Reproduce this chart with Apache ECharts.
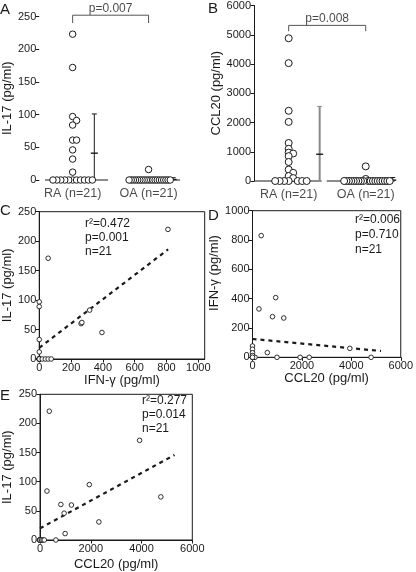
<!DOCTYPE html>
<html><head><meta charset="utf-8">
<script src="https://cdn.jsdelivr.net/npm/echarts@6/dist/echarts.min.js"></script>
<style>html,body{margin:0;padding:0;background:#fff}#c{width:416px;height:572px}</style>
</head><body><div id="c"></div>
<script>
// ---------------- DATA ----------------
const groupNames = ['RA (n=21)', 'OA (n=21)'];
// Panel A: IL-17 (pg/ml)
const il17RA = [223,172,97,91,84,61,61,46,32,12,0,0,0,0,0,0,0,0,0,0,0];
const il17OA = [16,0,0,0,0,0,0,0,0,0,0,0,0,0,0,0,0,0,0,0,0];
const il17Mean = [41, 0.8];
const il17Upper = [101, 3.5];
const il17PText = 'p=0.007';
// Panel B: CCL20 (pg/ml)
const ccl20RA = [4880,4030,2400,2020,1300,1100,970,940,850,650,390,280,170,100,0,0,0,0,0,0,0];
const ccl20OA = [500,70,0,0,0,0,0,0,0,0,0,0,0,0,0,0,0,0,0,0,0];
const ccl20Mean = [915, 30];
const ccl20Upper = [2550, 120];
const ccl20PText = 'p=0.008';
// Panel C: IFN-γ (x) vs IL-17 (y)
const ifnIl17 = [[809,220],[56,171],[0,97],[0,89],[317,83],[263,60],[268,62],[394,45],[0,33],[0,12],
  [0,0],[0,0],[0,0],[0,0],[0,0],[0,0],[0,0],[19,0],[38,0],[56,0],[75,0]];
const fitC = [[0,19],[810,186]];
const statsC = ['r\u00b2=0.472','p=0.001','n=21'];
// Panel D: CCL20 (x) vs IFN-γ (y)
const ccl20Ifn = [[352,830],[939,407],[261,330],[808,277],[1265,268],[3938,61],[600,32],[0,77],[0,55],[0,31],
  [990,0],[1928,0],[2295,0],[4799,0],[0,0],[0,0],[0,0],[50,0],[100,0],[0,12],[0,0]];
const fitD = [[0,125],[5200,43]];
const statsD = ['r\u00b2=0.006','p=0.710','n=21'];
// Panel E: CCL20 (x) vs IL-17 (y)
const ccl20Il17 = [[365,221],[3924,171],[1942,95],[274,84],[4760,74],[821,61],[1238,60],[951,46],[2320,31],[990,11],
  [626,0],[0,0],[0,0],[0,0],[0,0],[0,0],[0,0],[0,0],[60,0],[120,0],[170,0]];
const fitE = [[0,20],[5300,146]];
const statsE = ['r\u00b2=0.277','p=0.014','n=21'];

// ---------------- LAYOUT / STYLE ----------------
const FONT = '"Liberation Sans", Arial, Helvetica, sans-serif';
const INK = '#1a1a1a';
const G = {
  A: {left:37, top:16.5, width:148, height:163.5, xMin:0.56, xMax:2.48, yMax:250, yInt:50},
  B: {left:254, top:4, width:146, height:177, xMin:0.55, xMax:2.445, yMax:6000, yInt:1000},
  C: {left:37.3, top:211.7, width:167.4, height:147.3},
  D: {left:252.5, top:210.7, width:154, height:146.6},
  E: {left:39, top:394.3, width:153.3, height:146.4}
};

// beeswarm: returns horizontal px offsets for values (collision distance dc, step dx)
function swarm(values, pxPerY, dc, dx) {
  const order = values.map((v,i)=>i).sort((a,b)=>values[b]-values[a]);
  const placed = [], off = new Array(values.length);
  for (const i of order) {
    const y = values[i]*pxPerY;
    let x = 0;
    for (let s = 0; s < 200; s++) {
      x = s === 0 ? 0 : (s % 2 ? 1 : -1) * Math.ceil(s/2) * dx;
      if (placed.every(p => Math.hypot(p.x-x, p.y-y) >= dc - 1e-6)) break;
    }
    placed.push({x, y}); off[i] = x;
  }
  return off;
}

const series = [];
function dotPanel(idx, g, groups, means, uppers, pText, opts) {
  const pxX = g.width/(g.xMax-g.xMin), pxY = g.height/g.yMax;
  const pts = [];
  groups.forEach((vals, k) => {
    const offs = swarm(vals, pxY, opts.dc[k], opts.dx[k]);
    vals.forEach((v,i) => pts.push([k+1+offs[i]/pxX, v]));
  });
  // baselines
  series.push({type:'custom', xAxisIndex:idx, yAxisIndex:idx, silent:true,
    data: opts.base.map((b,k)=>[k+1+b[0]/pxX, k+1+b[1]/pxX]),
    renderItem:(p, api)=>{
      const a = api.coord([api.value(0), 0]), b = api.coord([api.value(1), 0]);
      return {type:'line', shape:{x1:a[0],y1:a[1],x2:b[0],y2:b[1]}, style:{stroke:INK, lineWidth:1}};
    }});
  // error bars
  series.push({type:'custom', xAxisIndex:idx, yAxisIndex:idx, silent:true,
    data: means.map((m,k)=>[k+1+opts.errOff[k]/pxX, m, uppers[k], k]),
    renderItem:(p, api)=>{
      const x = api.value(0), k = api.value(3);
      const b = api.coord([x,0]), t = api.coord([x, api.value(2)]), m = api.coord([x, api.value(1)]);
      const col = opts.errColor[k], w = opts.errWidth[k];
      return {type:'group', children:[
        {type:'line', shape:{x1:b[0],y1:b[1],x2:t[0],y2:t[1]}, style:{stroke:col, lineWidth:w}},
        {type:'line', shape:{x1:t[0]-2.5,y1:t[1],x2:t[0]+2.5,y2:t[1]}, style:{stroke:col, lineWidth:1}},
        {type:'line', shape:{x1:m[0]-3.5,y1:m[1],x2:m[0]+3.5,y2:m[1]}, style:{stroke:INK, lineWidth:1.4}}
      ]};
    }});
  // dots
  series.push({type:'scatter', xAxisIndex:idx, yAxisIndex:idx, clip:false, silent:true,
    symbol:'circle', symbolSize:opts.size, data:pts,
    itemStyle:{color:'#fff', borderColor:INK, borderWidth:1, opacity:1}});
  // bracket
  series.push({type:'line', xAxisIndex:idx, yAxisIndex:idx, clip:false, silent:true, symbol:'none',
    data:[[1,opts.br[0]],[1,opts.br[1]],[2,opts.br[1]],[2,opts.br[0]]],
    lineStyle:{color:'#555', width:1}});
  // p label
  series.push({type:'scatter', xAxisIndex:idx, yAxisIndex:idx, clip:false, silent:true,
    symbolSize:0, data:[[1.5, opts.br[1]]],
    label:{show:true, position:'top', distance:1, formatter:pText, fontSize:12, color:INK, fontFamily:FONT}});
  // category labels
  series.push({type:'scatter', xAxisIndex:idx, yAxisIndex:idx, clip:false, silent:true,
    symbolSize:0, data:groupNames.map((n,k)=>({value:[k+1,0], name:n})),
    label:{show:true, position:'bottom', distance:7, formatter:'{b}', fontSize:12.5, color:INK, fontFamily:FONT}});
}

dotPanel(0, G.A, [il17RA, il17OA], il17Mean, il17Upper, il17PText, {
  dc:[4,2.2], dx:[4,2.2], size:6.5, errOff:[22,25], errColor:[INK,INK], errWidth:[1,1],
  base:[[-28,36],[-23,32]], br:[240,252]});
dotPanel(1, G.B, [ccl20RA, ccl20OA], ccl20Mean, ccl20Upper, ccl20PText, {
  dc:[3.4,2.4], dx:[4.5,2.4], size:7, errOff:[31,27], errColor:['#8a8a8a',INK], errWidth:[2,1],
  base:[[-34.7,33],[-39,29]], br:[5120,5320]});

function scatterPanel(idx, pts, fit) {
  series.push({type:'scatter', xAxisIndex:idx, yAxisIndex:idx, clip:false, silent:true,
    symbol:'circle', symbolSize:4.6, data:pts,
    itemStyle:{color:'#fff', borderColor:INK, borderWidth:0.9, opacity:1}, z:3});
  series.push({type:'line', xAxisIndex:idx, yAxisIndex:idx, silent:true, symbol:'none', data:fit,
    lineStyle:{color:INK, width:2.2, type:[4,4]}, z:2});
}
scatterPanel(2, ifnIl17, fitC);
scatterPanel(3, ccl20Ifn, fitD);
scatterPanel(4, ccl20Il17, fitE);

function grid(g, box) {
  return {left:g.left, top:g.top, width:g.width, height:g.height, containLabel:false,
    show:box, borderColor:INK, borderWidth:1, backgroundColor:'transparent'};
}
const lab = {fontSize:11, color:INK, fontFamily:FONT};
function valAxis(gi, min, max, interval, name, gap, extra) {
  return Object.assign({gridIndex:gi, type:'value', min, max, interval,
    axisLine:{show:true, onZero:false, lineStyle:{color:INK, width:1}},
    axisTick:{show:true, length:3.5, lineStyle:{color:INK}},
    axisLabel:Object.assign({margin:3, showMaxLabel: max % interval === 0, formatter: v => String(v)}, lab),
    splitLine:{show:false},
    name, nameLocation:'middle', nameGap:gap,
    nameTextStyle:{fontSize:13, color:INK, fontFamily:FONT}}, extra||{});
}

const titleStyle = {fontSize:15, fontWeight:'normal', color:INK, fontFamily:FONT};
const statStyle = {fontSize:12, fontWeight:'normal', color:INK, fontFamily:FONT, lineHeight:14};

const option = {
  animation:false,
  textStyle:{fontFamily:FONT},
  title:[
    {text:'A', left:0, top:2, padding:0, textStyle:titleStyle},
    {text:'B', left:208, top:1, padding:0, textStyle:titleStyle},
    {text:'C', left:0, top:203, padding:0, textStyle:titleStyle},
    {text:'D', left:208, top:208, padding:0, textStyle:titleStyle},
    {text:'E', left:0, top:388, padding:0, textStyle:titleStyle},
    {text:statsC.join('\n'), left:85, top:217, padding:0, textStyle:statStyle},
    {text:statsD.join('\n'), left:355, top:212, padding:0, textStyle:Object.assign({}, statStyle, {lineHeight:15})},
    {text:statsE.join('\n'), left:142, top:394, padding:0, textStyle:statStyle}
  ],
  grid:[grid(G.A,false), grid(G.B,false), grid(G.C,true), grid(G.D,true), grid(G.E,true)],
  xAxis:[
    {gridIndex:0, type:'value', min:G.A.xMin, max:G.A.xMax, show:false},
    {gridIndex:1, type:'value', min:G.B.xMin, max:G.B.xMax, show:false},
    valAxis(2, 0, 1040, 200, 'IFN-\u03b3 (pg/ml)', 12),
    valAxis(3, 0, 6000, 2000, 'CCL20 (pg/ml)', 14),
    valAxis(4, 0, 6000, 2000, 'CCL20 (pg/ml)', 18)
  ],
  yAxis:[
    valAxis(0, 0, 250, 50, 'IL-17 (pg/ml)', 24, {axisLine:{show:false}}),
    valAxis(1, 0, 6000, 1000, 'CCL20 (pg/ml)', 29),
    valAxis(2, 0, 250, 50, 'IL-17 (pg/ml)', 23),
    valAxis(3, 0, 1000, 200, 'IFN-\u03b3 (pg/ml)', 28, {nameTextStyle:{fontSize:13, color:INK, fontFamily:FONT, padding:[0,0,0,22]}}),
    valAxis(4, 0, 250, 50, 'IL-17 (pg/ml)', 26)
  ],
  series
};
const chart = echarts.init(document.getElementById('c'), null, {renderer:'canvas'});
chart.setOption(option);
</script></body></html>
